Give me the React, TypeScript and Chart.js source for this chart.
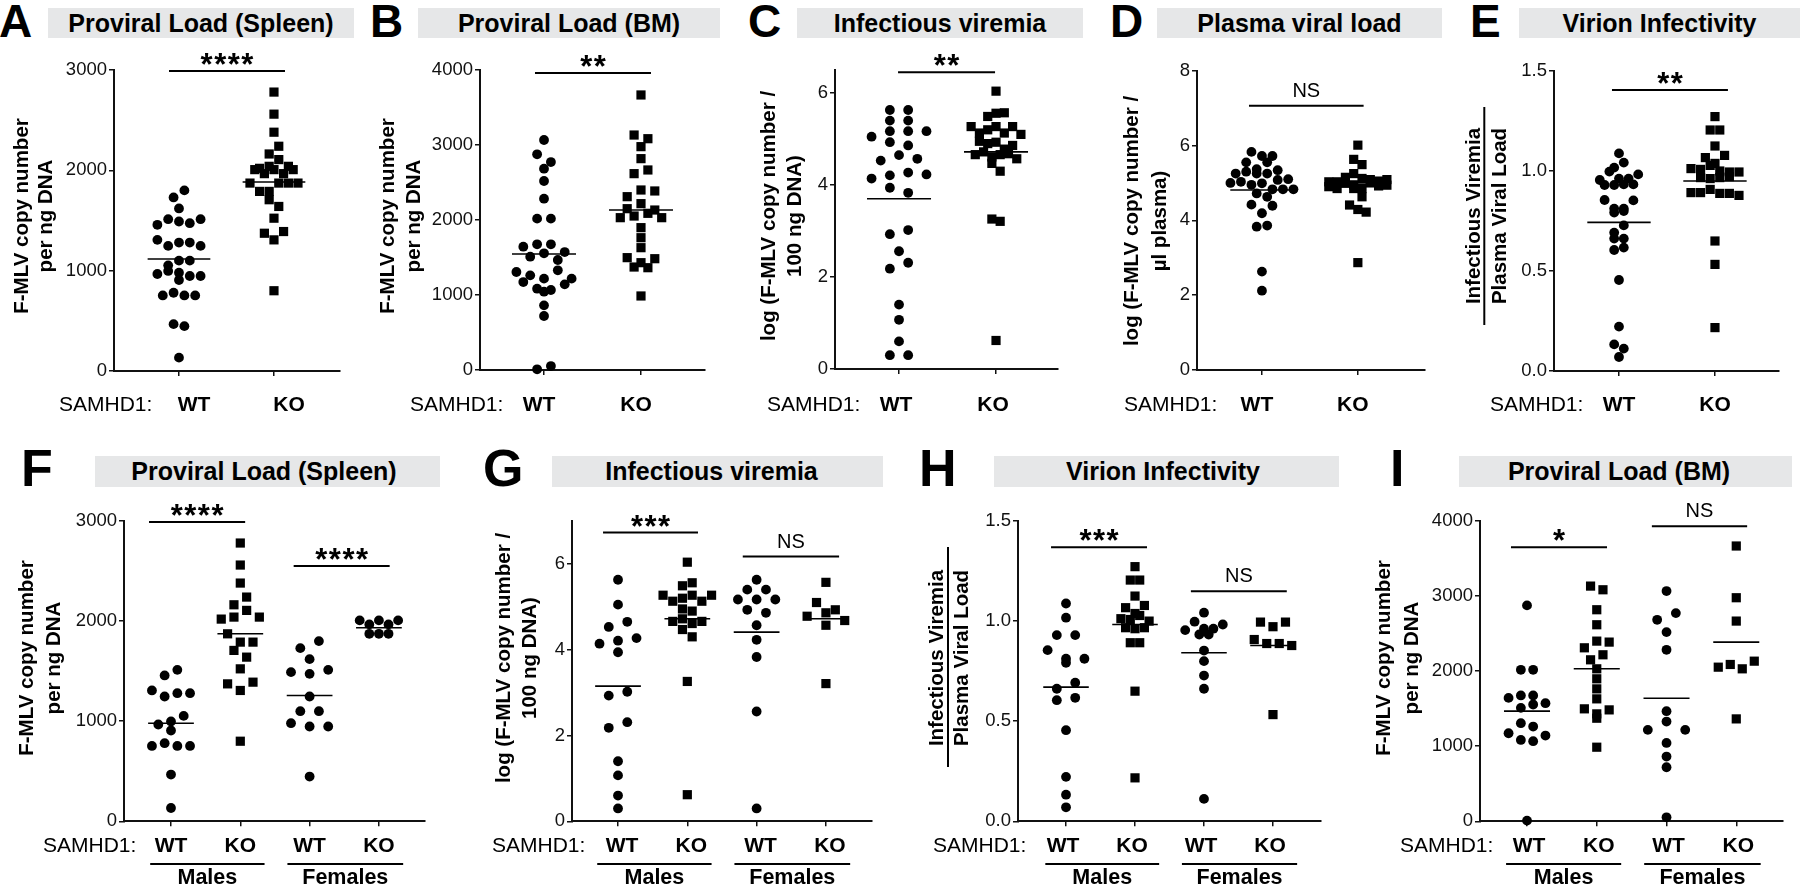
import React, { useEffect, useRef } from "react";
import { Chart, registerables } from "chart.js";
Chart.register(...registerables);

const FONT = '"Liberation Sans", Arial, Helvetica, sans-serif';

// ---------------- data ----------------
const groupLabels = ["WT", "KO"];
const sexGroupLabels = ["WT", "KO", "WT", "KO"];
const sexLabels = ["Males", "Females"];

// Proviral load, spleen (F-MLV copies per ng DNA)
const spleenWTMale = [1457, 1513, 1307, 1247, 1280, 1280, 967, 997, 1053, 907, 753, 780, 753, 753, 467, 133];
const spleenKOMale = [2780, 2560, 2380, 2163, 2240, 2020, 2040, 2107, 2040, 1873, 1790, 1790, 1707, 1640, 1523, 1373, 1307, 1390, 800];
const spleenWTFemale = [1730, 1800, 1620, 1490, 1473, 1513, 1247, 1100, 1100, 980, 947, 947, 447];
const spleenKOFemale = [2007, 1967, 2007, 1967, 2007, 1873, 1873, 1873];
const spleenMeansAll = [1116, 1884];
const spleenMeansSex = [980, 1873, 1257, 1933];

// Proviral load, bone marrow
const bmWTMale = [2876, 2018, 2018, 1644, 1676, 1676, 1573, 1511, 1556, 1307, 1262, 1173, 1084, 1067, 1142, 9];
const bmKOMale = [3133, 3084, 2818, 2618, 2311, 2400, 2387, 2151, 2218, 2031, 1898, 1764, 1631, 1498, 1431, 1484, 1373, 987];
const bmWTFemale = [3067, 2684, 2773, 2520, 2284, 1467, 1218, 1329, 1218, 1044, 862, 720, 53];
const bmKOFemale = [3667, 2978, 2667, 2053, 2089, 2031, 2133, 1364];
const bmMeansAll = [1547, 2133];
const bmMeansSex = [1467, 2031, 1640, 2387];

// Infectious viremia, log(copies / 100 ng DNA)
const viremiaWTMale = [5.63, 5.05, 4.53, 4.65, 4.14, 4.21, 4.27, 3.94, 2.93, 3.02, 2.18, 2.31, 1.4, 1.07, 0.6, 0.3];
const viremiaKOMale = [6.04, 5.49, 5.56, 5.27, 5.13, 5.2, 5.27, 5.13, 5.27, 4.95, 4.9, 4.66, 4.72, 4.61, 4.47, 4.66, 4.3, 3.26, 0.62];
const viremiaWTFemale = [5.63, 5.4, 5.4, 5.17, 5.17, 5.17, 4.93, 4.86, 4.57, 4.23, 3.83, 2.56, 0.3];
const viremiaKOFemale = [5.57, 5.1, 4.93, 4.78, 4.86, 4.68, 4.57, 3.21];
const viremiaMeansAll = [3.7, 4.72];
const viremiaMeansSex = [3.15, 4.72, 4.41, 4.72];

// Plasma viral load, log(copies / µl plasma)
const plasmaWT = [5.83, 5.72, 5.72, 5.55, 5.37, 5.55, 5.25, 5.34, 5.3, 5.25, 5.25, 5.0, 5.08, 5.1, 5.03, 4.95, 4.99, 4.83, 4.83, 4.72, 4.83, 4.63, 4.42, 4.19, 4.39, 3.83, 3.86, 2.63, 2.12];
const plasmaKO = [6.01, 5.63, 5.49, 5.03, 5.03, 5.15, 5.25, 5.12, 5.09, 5.05, 5.09, 4.9, 4.85, 4.99, 4.95, 4.85, 5.0, 4.92, 4.94, 4.85, 4.63, 4.41, 4.29, 4.22, 2.87];
const plasmaMeans = [4.81, 4.97];

// Virion infectivity (infectious viremia / plasma viral load)
const infWTMale = [1.088, 1.017, 0.93, 0.93, 0.855, 0.812, 0.792, 0.812, 0.662, 0.692, 0.605, 0.617, 0.455, 0.222, 0.133, 0.07];
const infKOMale = [1.272, 1.205, 1.205, 1.125, 1.067, 1.038, 1.078, 1.012, 1.008, 1.028, 1.0, 0.967, 0.962, 0.967, 0.892, 0.892, 0.65, 0.217];
const infWTFemale = [1.042, 0.955, 0.997, 0.962, 0.962, 0.983, 0.933, 0.933, 0.853, 0.8, 0.728, 0.662, 0.112];
const infKOFemale = [0.995, 0.972, 0.995, 0.908, 0.888, 0.888, 0.878, 0.533];
const infMeansAll = [0.743, 0.95];
const infMeansSex = [0.67, 0.983, 0.842, 0.878];

// tick labels
const ticksSpleen = [0, 1000, 2000, 3000];
const ticksBM = [0, 1000, 2000, 3000, 4000];
const ticksViremia = [0, 2, 4, 6];
const ticksPlasma = [0, 2, 4, 6, 8];
const ticksInf = [0, 0.5, 1.0, 1.5];

const titleCopies = ["F-MLV copy number", "per ng DNA"];
const titleViremia = ["log (F-MLV copy number /", "100 ng DNA)"];
const titlePlasma = ["log (F-MLV copy number /", "\u00b5l plasma)"];
const titleInf = ["Infectious Viremia", "Plasma Viral Load"];

// ---------------- layout helpers ----------------
type Group = { values: number[]; mean: number; shape: string; spacing: number };
type Sig = { from: number; to: number; y: number; label: string };
type PanelCfg = any;

function swarm(values: number[], pxPerY: number, spacing: number, diam: number, maxRow: number): number[] {
  const idx = values.map((_, i) => i).sort((a, b) => values[b] - values[a] || a - b);
  const off = new Array(values.length).fill(0);
  let row: number[] = [];
  let anchor = 0;
  const flush = () => {
    const r = row.slice().sort((a, b) => a - b);
    r.forEach((i, k) => {
      off[i] = (k - (r.length - 1) / 2) * spacing;
    });
    row = [];
  };
  for (const i of idx) {
    const py = values[i] * pxPerY;
    if (row.length && (Math.abs(anchor - py) >= diam || row.length >= maxRow)) flush();
    if (!row.length) anchor = py;
    row.push(i);
  }
  if (row.length) flush();
  return off;
}

const top = { canvasY: 42, canvasH: 380, letterTop: -2, letterSize: 46, barY: 8, barH: 30, labelBaseline: 411, yTitleY: 216 };
const bot = { canvasY: 500, canvasH: 394, letterTop: 442, letterSize: 52, barY: 456, barH: 31, labelBaseline: 852, yTitleY: 658, axisTop: 521, axisBottom: 821.3 };

const panels: PanelCfg[] = [
  {
    id: "A", letter: "A", letterX: -1, ...top,
    title: "Proviral Load (Spleen)", barX: 48, barW: 306, titleShift: 0,
    canvasX: 0, canvasW: 355, axisX: 114, axisRight: 340, axisTop: 70, axisBottom: 371,
    xMin: -0.684, xMax: 1.695, yMin: 0, yMax: 3000, yTicks: ticksSpleen, dec: 0,
    cats: groupLabels, catShift: 15,
    groups: [
      { values: [...spleenWTMale, ...spleenWTFemale], mean: spleenMeansAll[0], shape: "circle", spacing: 10.8 },
      { values: [...spleenKOMale, ...spleenKOFemale], mean: spleenMeansAll[1], shape: "rect", spacing: 9.6 },
    ],
    sigs: [{ from: -0.105, to: 1.116, y: 2990, label: "****" }],
    yTitle: titleCopies, yTitleX: [-86, -62], samX: -55,
  },
  {
    id: "B", letter: "B", letterX: 370, ...top,
    title: "Proviral Load (BM)", barX: 418, barW: 302, titleShift: 0,
    canvasX: 366, canvasW: 354, axisX: 480, axisRight: 705, axisTop: 70, axisBottom: 370,
    xMin: -0.66, xMax: 1.66, yMin: 0, yMax: 4000, yTicks: ticksBM, dec: 0,
    cats: groupLabels, catShift: -5,
    groups: [
      { values: [...bmWTMale, ...bmWTFemale], mean: bmMeansAll[0], shape: "circle", spacing: 13.8 },
      { values: [...bmKOMale, ...bmKOFemale], mean: bmMeansAll[1], shape: "rect", spacing: 13.8 },
    ],
    sigs: [{ from: -0.093, to: 1.103, y: 3960, label: "**" }],
    yTitle: titleCopies, yTitleX: [-86, -60], samX: -70,
  },
  {
    id: "C", letter: "C", letterX: 748, ...top,
    title: "Infectious viremia", barX: 797, barW: 286, titleShift: 0,
    canvasX: 721, canvasW: 352, axisX: 835, axisRight: 1058, axisTop: 70, axisBottom: 369,
    xMin: -0.66, xMax: 1.639, yMin: 0, yMax: 6.5, yTicks: ticksViremia, dec: 0,
    cats: groupLabels, catShift: -3,
    groups: [
      { values: [...viremiaWTMale, ...viremiaWTFemale], mean: viremiaMeansAll[0], shape: "circle", spacing: 18.3 },
      { values: [...viremiaKOMale, ...viremiaKOFemale], mean: viremiaMeansAll[1], shape: "rect", spacing: 8.3 },
    ],
    sigs: [{ from: -0.01, to: 0.99, y: 6.45, label: "**" }],
    yTitle: titleViremia, yTitleX: [-60, -34], samX: -68,
  },
  {
    id: "D", letter: "D", letterX: 1110, ...top, yTitleY: 221,
    title: "Plasma viral load", barX: 1157, barW: 285, titleShift: 0,
    canvasX: 1083, canvasW: 357, axisX: 1197, axisRight: 1425, axisTop: 70.7, axisBottom: 370,
    xMin: -0.677, xMax: 1.7, yMin: 0, yMax: 8, yTicks: ticksPlasma, dec: 0,
    cats: groupLabels, catShift: -5,
    groups: [
      { values: plasmaWT, mean: plasmaMeans[0], shape: "circle", spacing: 10.5 },
      { values: plasmaKO, mean: plasmaMeans[1], shape: "rect", spacing: 8.3 },
    ],
    sigs: [{ from: -0.135, to: 1.06, y: 7.06, label: "NS" }],
    yTitle: titlePlasma, yTitleX: [-59, -31], samX: -73,
  },
  {
    id: "E", letter: "E", letterX: 1470, ...top,
    title: "Virion Infectivity", barX: 1519, barW: 281, titleShift: 0,
    canvasX: 1440, canvasW: 354, axisX: 1554, axisRight: 1779, axisTop: 71, axisBottom: 371,
    xMin: -0.677, xMax: 1.667, yMin: 0, yMax: 1.5, yTicks: ticksInf, dec: 1,
    cats: groupLabels, catShift: 0,
    groups: [
      { values: [...infWTMale, ...infWTFemale], mean: infMeansAll[0], shape: "circle", spacing: 9.6 },
      { values: [...infKOMale, ...infKOFemale], mean: infMeansAll[1], shape: "rect", spacing: 9.6 },
    ],
    sigs: [{ from: -0.073, to: 1.135, y: 1.405, label: "**" }],
    yTitle: titleInf, yTitleX: [-74, -48], samX: -64, fraction: { x: -69.7, y1: 107, y2: 325 },
  },
  {
    id: "F", letter: "F", letterX: 21, ...bot,
    title: "Proviral Load (Spleen)", barX: 95, barW: 345, titleShift: 7,
    canvasX: 4, canvasW: 436, axisX: 124, axisRight: 425,
    xMin: -0.678, xMax: 3.665, yMin: 0, yMax: 3000, yTicks: ticksSpleen, dec: 0,
    cats: sexGroupLabels, catShift: 0, sexes: true,
    groups: [
      { values: spleenWTMale, mean: spleenMeansSex[0], shape: "circle", spacing: 12.7 },
      { values: spleenKOMale, mean: spleenMeansSex[1], shape: "rect", spacing: 12.7 },
      { values: spleenWTFemale, mean: spleenMeansSex[2], shape: "circle", spacing: 18.6 },
      { values: spleenKOFemale, mean: spleenMeansSex[3], shape: "circle", spacing: 9.6 },
    ],
    sigs: [
      { from: -0.317, to: 1.07, y: 2990, label: "****" },
      { from: 1.77, to: 3.155, y: 2550, label: "****" },
    ],
    yTitle: titleCopies, yTitleX: [-91, -64], samX: -81,
  },
  {
    id: "G", letter: "G", letterX: 483, ...bot,
    title: "Infectious viremia", barX: 552, barW: 331, titleShift: 12,
    canvasX: 452, canvasW: 435, axisX: 572, axisRight: 872,
    xMin: -0.664, xMax: 3.665, yMin: 0, yMax: 7, yTicks: ticksViremia, dec: 0,
    cats: sexGroupLabels, catShift: 4, sexes: true,
    groups: [
      { values: viremiaWTMale, mean: viremiaMeansSex[0], shape: "circle", spacing: 18.5 },
      { values: viremiaKOMale, mean: viremiaMeansSex[1], shape: "rect", spacing: 9.7 },
      { values: viremiaWTFemale, mean: viremiaMeansSex[2], shape: "circle", spacing: 18.7 },
      { values: viremiaKOFemale, mean: viremiaMeansSex[3], shape: "rect", spacing: 18.8 },
    ],
    sigs: [
      { from: -0.216, to: 1.154, y: 6.73, label: "***" },
      { from: 1.8, to: 3.19, y: 6.17, label: "NS" },
    ],
    yTitle: titleViremia, yTitleX: [-62, -36], samX: -80,
  },
  {
    id: "H", letter: "H", letterX: 919, ...bot,
    title: "Virion Infectivity", barX: 994, barW: 345, titleShift: 7,
    canvasX: 898, canvasW: 438, axisX: 1018, axisRight: 1321,
    xMin: -0.696, xMax: 3.696, yMin: 0, yMax: 1.5, yTicks: ticksInf, dec: 1,
    cats: sexGroupLabels, catShift: -3, sexes: true,
    groups: [
      { values: infWTMale, mean: infMeansSex[0], shape: "circle", spacing: 18.4 },
      { values: infKOMale, mean: infMeansSex[1], shape: "rect", spacing: 9.4 },
      { values: infWTFemale, mean: infMeansSex[2], shape: "circle", spacing: 9.4 },
      { values: infKOFemale, mean: infMeansSex[3], shape: "rect", spacing: 12.5 },
    ],
    sigs: [
      { from: -0.217, to: 1.174, y: 1.369, label: "***" },
      { from: 1.81, to: 3.2, y: 1.149, label: "NS" },
    ],
    yTitle: titleInf, yTitleX: [-75, -50], samX: -85, fraction: { x: -70, y1: 547, y2: 767 },
  },
  {
    id: "I", letter: "I", letterX: 1390, ...bot,
    title: "Proviral Load (BM)", barX: 1459, barW: 333, titleShift: 13,
    canvasX: 1360, canvasW: 438, axisX: 1480, axisRight: 1783,
    xMin: -0.674, xMax: 3.67, yMin: 0, yMax: 4000, yTicks: ticksBM, dec: 0,
    cats: sexGroupLabels, catShift: 2, sexes: true,
    groups: [
      { values: bmWTMale, mean: bmMeansSex[0], shape: "circle", spacing: 12.3 },
      { values: bmKOMale, mean: bmMeansSex[1], shape: "rect", spacing: 12.4 },
      { values: bmWTFemale, mean: bmMeansSex[2], shape: "circle", spacing: 18.7 },
      { values: bmKOFemale, mean: bmMeansSex[3], shape: "rect", spacing: 12 },
    ],
    sigs: [
      { from: -0.23, to: 1.147, y: 3649, label: "*" },
      { from: 1.79, to: 3.156, y: 3929, label: "NS" },
    ],
    yTitle: titleCopies, yTitleX: [-90, -62], samX: -80,
  },
];

const CIRCLE_R = 4.9;
const RECT_R = 6.5;

function PanelChart({ p }: { p: PanelCfg }) {
  const ref = useRef<HTMLCanvasElement>(null);
  useEffect(() => {
    const canvas = ref.current;
    if (!canvas) return;
    const pxPerY = (p.axisBottom - p.axisTop) / (p.yMax - p.yMin);
    const pxPerX = (p.axisRight - p.axisX) / (p.xMax - p.xMin);
    const datasets: any[] = [];
    p.groups.forEach((g: Group, gi: number) => {
      const off = swarm(g.values, pxPerY, g.spacing, 8.8, 8);
      const r = g.shape === "rect" ? RECT_R : CIRCLE_R;
      datasets.push({
        data: g.values.map((v, k) => ({ x: gi + off[k] / pxPerX, y: v })),
        showLine: false,
        pointStyle: g.shape,
        pointRadius: r,
        pointHoverRadius: r,
        pointBackgroundColor: "#000",
        backgroundColor: "#000",
        pointBorderWidth: 0,
        borderWidth: 0,
        clip: false,
        order: 2,
      });
      datasets.push({
        data: [
          { x: gi - 0.33, y: g.mean },
          { x: gi + 0.33, y: g.mean },
        ],
        showLine: true,
        borderColor: "#000",
        borderWidth: 1.6,
        pointRadius: 0,
        pointHoverRadius: 0,
        clip: false,
        order: 1,
      });
    });
    p.sigs.forEach((s: Sig) => {
      datasets.push({
        data: [
          { x: s.from, y: s.y },
          { x: s.to, y: s.y },
        ],
        showLine: true,
        borderColor: "#000",
        borderWidth: 2,
        pointRadius: 0,
        pointHoverRadius: 0,
        clip: false,
        order: 1,
      });
    });

    const deco = {
      id: "deco" + p.id,
      afterDraw(chart: any) {
        const ctx = chart.ctx;
        const xs = chart.scales.x;
        const ys = chart.scales.y;
        const ox = p.canvasX;
        const oy = p.canvasY;
        ctx.save();
        ctx.fillStyle = "#000";
        ctx.strokeStyle = "#000";
        // y axis title
        ctx.font = `bold 20.5px ${FONT}`;
        ctx.textAlign = "center";
        ctx.textBaseline = "alphabetic";
        p.yTitle.forEach((t: string, i: number) => {
          ctx.save();
          ctx.translate(p.axisX + p.yTitleX[i] - ox, p.yTitleY - oy);
          ctx.rotate(-Math.PI / 2);
          ctx.fillText(t, 0, 0);
          ctx.restore();
        });
        if (p.fraction) {
          ctx.lineWidth = 2;
          ctx.beginPath();
          const fx = p.axisX + p.fraction.x - ox;
          ctx.moveTo(fx, p.fraction.y1 - oy);
          ctx.lineTo(fx, p.fraction.y2 - oy);
          ctx.stroke();
        }
        // significance labels
        p.sigs.forEach((s: Sig) => {
          const cx = xs.getPixelForValue((s.from + s.to) / 2);
          const py = ys.getPixelForValue(s.y);
          if (s.label === "NS") {
            ctx.font = `20px ${FONT}`;
            ctx.fillText("NS", cx, py - 9);
          } else {
            ctx.font = `bold 31px ${FONT}`;
            ctx.letterSpacing = "1.5px";
            ctx.fillText(s.label, cx + 0.75, py + 4);
            ctx.letterSpacing = "0px";
          }
        });
        // category labels
        const bl = p.labelBaseline - oy;
        ctx.font = `bold 21px ${FONT}`;
        ctx.textAlign = "center";
        p.cats.forEach((c: string, i: number) => {
          ctx.fillText(c, xs.getPixelForValue(i) + p.catShift, bl);
        });
        ctx.font = `21px ${FONT}`;
        ctx.textAlign = "left";
        ctx.fillText("SAMHD1:", p.axisX + p.samX - ox, bl);
        if (p.sexes) {
          const spans = [
            [-0.3, 1.35],
            [1.68, 3.35],
          ];
          ctx.lineWidth = 2;
          ctx.font = `bold 21.5px ${FONT}`;
          ctx.textAlign = "center";
          spans.forEach((sp, k) => {
            const x1 = xs.getPixelForValue(sp[0]);
            const x2 = xs.getPixelForValue(sp[1]);
            ctx.beginPath();
            ctx.moveTo(x1, 864 - oy);
            ctx.lineTo(x2, 864 - oy);
            ctx.stroke();
            ctx.fillText(sexLabels[k], (x1 + x2) / 2, 884 - oy);
          });
        }
        ctx.restore();
      },
    };

    const chart = new Chart(canvas, {
      type: "scatter",
      data: { datasets },
      options: {
        responsive: false,
        animation: false,
        devicePixelRatio: 1,
        events: [],
        layout: {
          padding: {
            left: 0,
            top: p.axisTop - p.canvasY,
            right: p.canvasX + p.canvasW - p.axisRight,
            bottom: 0,
          },
        },
        plugins: { legend: { display: false }, tooltip: { enabled: false } },
        scales: {
          x: {
            type: "linear",
            position: "bottom",
            min: p.xMin,
            max: p.xMax,
            afterFit: (s: any) => {
              s.height = p.canvasY + p.canvasH - p.axisBottom;
            },
            afterBuildTicks: (s: any) => {
              s.ticks = p.cats.map((_: string, i: number) => ({ value: i }));
            },
            ticks: { display: false },
            grid: { display: true, drawOnChartArea: false, drawTicks: true, tickLength: 5, color: "#111", lineWidth: 1.5 },
            border: { display: true, color: "#111", width: 2 },
          },
          y: {
            type: "linear",
            position: "left",
            min: p.yMin,
            max: p.yMax,
            afterFit: (s: any) => {
              s.width = p.axisX - p.canvasX;
            },
            afterBuildTicks: (s: any) => {
              s.ticks = p.yTicks.map((v: number) => ({ value: v }));
            },
            ticks: {
              color: "#111",
              padding: 2,
              font: { family: FONT, size: 18.5 },
              callback: (v: any) => Number(v).toFixed(p.dec),
            },
            grid: { display: true, drawOnChartArea: false, drawTicks: true, tickLength: 5, color: "#111", lineWidth: 1.5 },
            border: { display: true, color: "#111", width: 2 },
          },
        },
      } as any,
      plugins: [deco],
    });
    return () => chart.destroy();
  }, []);

  return (
    <>
      <div
        style={{
          position: "absolute",
          left: p.letterX,
          top: p.letterTop,
          font: `bold ${p.letterSize}px ${FONT}`,
          lineHeight: `${p.letterSize}px`,
          color: "#000",
          whiteSpace: "nowrap",
        }}
      >
        {p.letter}
      </div>
      <div
        style={{
          position: "absolute",
          left: p.barX,
          top: p.barY,
          width: p.barW,
          height: p.barH,
          boxSizing: "border-box",
          paddingRight: p.titleShift,
          background: "#e6e7e8",
          font: `bold 25px ${FONT}`,
          lineHeight: `${p.barH}px`,
          textAlign: "center",
          color: "#000",
          whiteSpace: "nowrap",
        }}
      >
        {p.title}
      </div>
      <canvas
        ref={ref}
        width={p.canvasW}
        height={p.canvasH}
        style={{ position: "absolute", left: p.canvasX, top: p.canvasY, width: p.canvasW, height: p.canvasH }}
      />
    </>
  );
}

export default function App() {
  return (
    <div
      style={{
        position: "absolute",
        left: 0,
        top: 0,
        width: 1800,
        height: 894,
        background: "#fff",
        overflow: "hidden",
        fontFamily: FONT,
      }}
    >
      {panels.map((p) => (
        <PanelChart key={p.id} p={p} />
      ))}
    </div>
  );
}
